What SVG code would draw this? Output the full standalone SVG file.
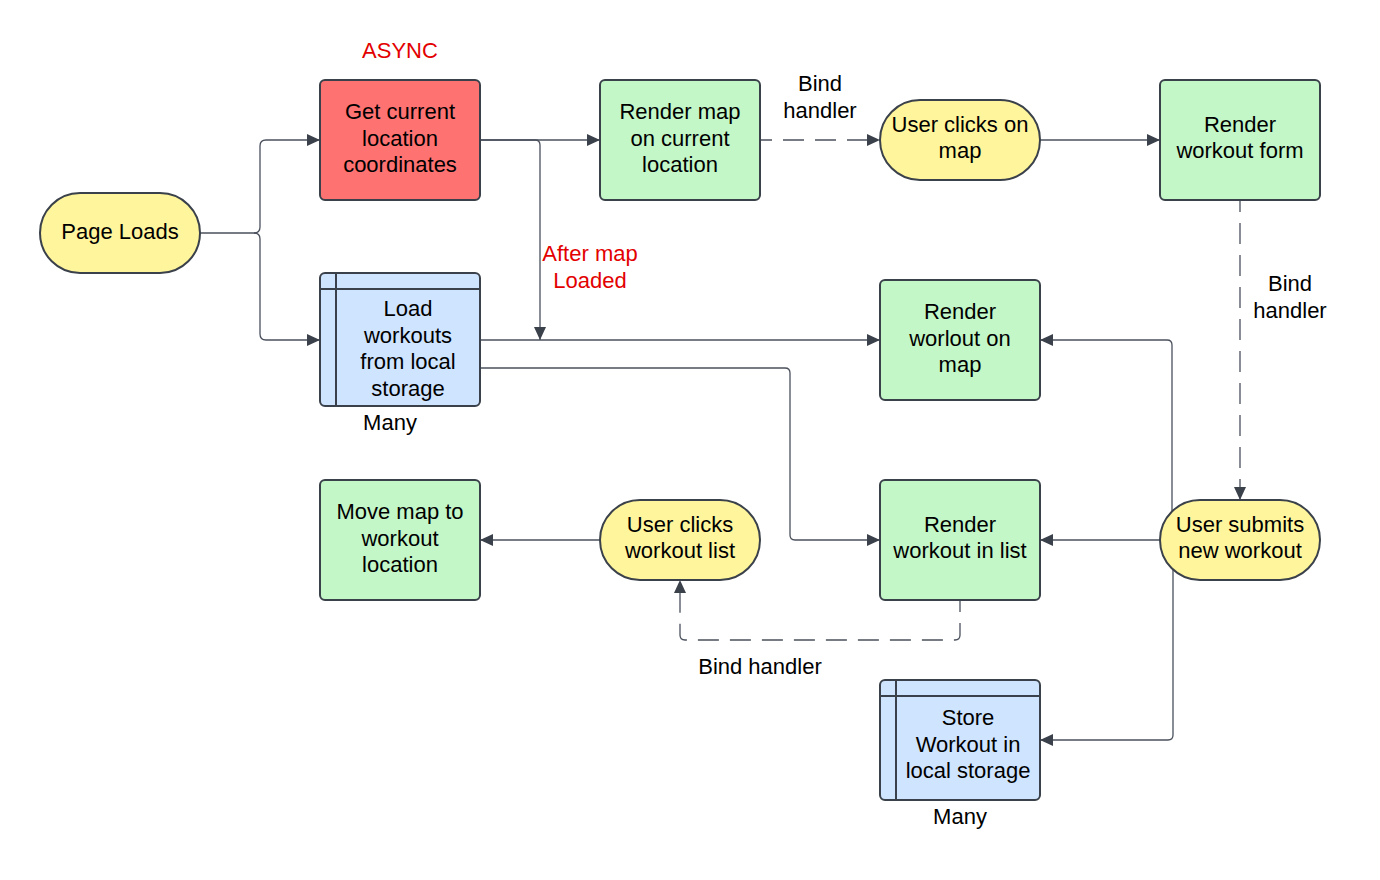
<svg xmlns="http://www.w3.org/2000/svg" width="1380" height="880" viewBox="0 0 1380 880">
<style>
.n{stroke:#3a414a;stroke-width:2}
.red{fill:#ff7272}
.grn{fill:#c3f7c8}
.yel{fill:#fff59c}
.blu{fill:#cfe4ff}
.t{font-family:"Liberation Sans",Arial,sans-serif;font-size:22px;fill:#000;text-anchor:middle}
.rt{fill:#e30000}
.c{fill:none;stroke:#4a505c;stroke-width:1.3;marker-end:url(#ah)}
.d{stroke-dasharray:21 11;stroke-dashoffset:9}
.ln{stroke:#3a414a;stroke-width:2;fill:none}
</style>
<defs>
<marker id="ah" markerUnits="userSpaceOnUse" markerWidth="14" markerHeight="12" refX="13" refY="6" orient="auto">
<path d="M0,0 L13,6 L0,12 Z" fill="#3a414a"/>
</marker>
</defs>
<rect width="1380" height="880" fill="#fff"/>

<g id="connectors">
<path class="c" d="M200,233 H254 Q260,233 260,227 V146 Q260,140 266,140 H320"/>
<path class="c" d="M254,233 Q260,233 260,239 V334 Q260,340 266,340 H320"/>
<path class="c" d="M480,140 H600"/>
<path class="c" d="M480,140 H535 Q540,140 540,145 V340"/>
<path class="c d" d="M760,140 H880"/>
<path class="c" d="M1040,140 H1160"/>
<path class="c d" d="M1240,200 V500"/>
<path class="c" d="M480,340 H880"/>
<path class="c" d="M480,368 H785 Q790,368 790,373 V535 Q790,540 795,540 H880"/>
<path class="c" d="M1160,540 H1040"/>
<path class="c" d="M1172,520 V345 Q1172,340 1167,340 H1040"/>
<path class="c" d="M1173,560 V735 Q1173,740 1168,740 H1040"/>
<path class="c" d="M600,540 H480"/>
<path class="c d" d="M960,600 V635 Q960,640 955,640 H685 Q680,640 680,635 V580"/>
</g>

<g id="page-loads">
<rect class="n yel" x="40" y="193" width="160" height="80" rx="40"/>
<text class="t" x="120" y="239">Page Loads</text>
</g>

<g id="get-location">
<rect class="n red" x="320" y="80" width="160" height="120" rx="5"/>
<text class="t" x="400" y="119">Get current</text>
<text class="t" x="400" y="145.5">location</text>
<text class="t" x="400" y="172">coordinates</text>
</g>

<g id="render-map">
<rect class="n grn" x="600" y="80" width="160" height="120" rx="5"/>
<text class="t" x="680" y="119">Render map</text>
<text class="t" x="680" y="145.5">on current</text>
<text class="t" x="680" y="172">location</text>
</g>

<g id="user-clicks-map">
<rect class="n yel" x="880" y="100" width="160" height="80" rx="40"/>
<text class="t" x="960" y="131.5">User clicks on</text>
<text class="t" x="960" y="158">map</text>
</g>

<g id="render-form">
<rect class="n grn" x="1160" y="80" width="160" height="120" rx="5"/>
<text class="t" x="1240" y="131.5">Render</text>
<text class="t" x="1240" y="158">workout form</text>
</g>

<g id="load-workouts">
<rect class="n blu" x="320" y="273" width="160" height="133" rx="5"/>
<path class="ln" d="M320,289 H480 M336,273 V406"/>
<text class="t" x="408" y="316">Load</text>
<text class="t" x="408" y="342.5">workouts</text>
<text class="t" x="408" y="369">from local</text>
<text class="t" x="408" y="395.5">storage</text>
</g>

<g id="render-on-map">
<rect class="n grn" x="880" y="280" width="160" height="120" rx="5"/>
<text class="t" x="960" y="319">Render</text>
<text class="t" x="960" y="345.5">worlout on</text>
<text class="t" x="960" y="372">map</text>
</g>

<g id="move-map">
<rect class="n grn" x="320" y="480" width="160" height="120" rx="5"/>
<text class="t" x="400" y="519">Move map to</text>
<text class="t" x="400" y="545.5">workout</text>
<text class="t" x="400" y="572">location</text>
</g>

<g id="user-clicks-list">
<rect class="n yel" x="600" y="500" width="160" height="80" rx="40"/>
<text class="t" x="680" y="531.5">User clicks</text>
<text class="t" x="680" y="558">workout list</text>
</g>

<g id="render-list">
<rect class="n grn" x="880" y="480" width="160" height="120" rx="5"/>
<text class="t" x="960" y="531.5">Render</text>
<text class="t" x="960" y="558">workout in list</text>
</g>

<g id="user-submits">
<rect class="n yel" x="1160" y="500" width="160" height="80" rx="40"/>
<text class="t" x="1240" y="531.5">User submits</text>
<text class="t" x="1240" y="558">new workout</text>
</g>

<g id="store-workout">
<rect class="n blu" x="880" y="680" width="160" height="120" rx="5"/>
<path class="ln" d="M880,696 H1040 M896,680 V800"/>
<text class="t" x="968" y="725">Store</text>
<text class="t" x="968" y="751.5">Workout in</text>
<text class="t" x="968" y="778">local storage</text>
</g>

<g id="labels">
<text class="t rt" x="400" y="58">ASYNC</text>
<text class="t" x="820" y="91">Bind</text>
<text class="t" x="820" y="117.5">handler</text>
<text class="t rt" x="590" y="261">After map</text>
<text class="t rt" x="590" y="287.5">Loaded</text>
<text class="t" x="1290" y="291">Bind</text>
<text class="t" x="1290" y="317.5">handler</text>
<text class="t" x="390" y="430">Many</text>
<text class="t" x="760" y="674">Bind handler</text>
<text class="t" x="960" y="824">Many</text>
</g>
</svg>
